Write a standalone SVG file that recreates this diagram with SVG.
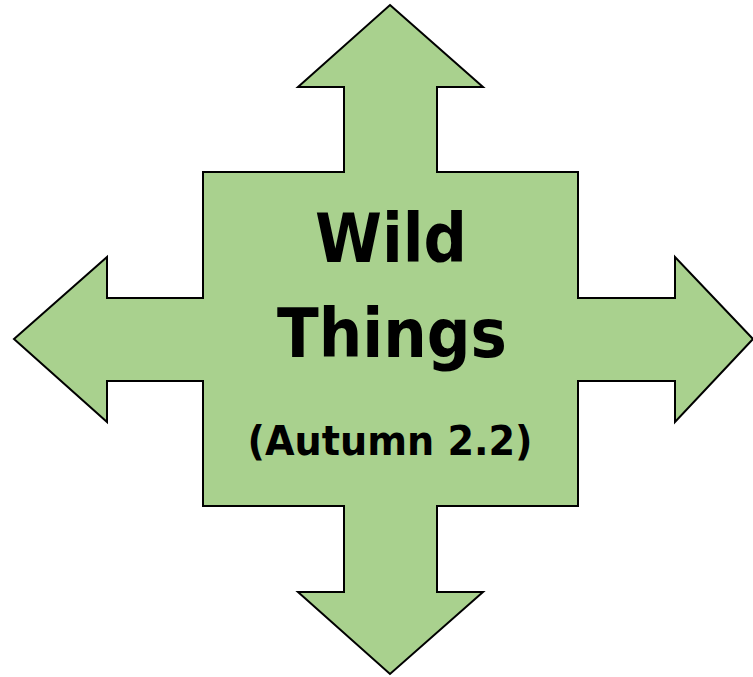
<svg xmlns="http://www.w3.org/2000/svg" width="753" height="677" viewBox="0 0 753 677">
<style>
.shape{fill:#A9D18E;stroke:#000;stroke-width:2;stroke-linejoin:miter}
.t{font-family:"DejaVu Sans",Verdana,sans-serif;font-weight:bold;fill:#000;text-anchor:middle}
</style>
<rect width="753" height="677" fill="#fff"/>
<g id="quad-arrow">
<path class="shape" d="M390,5 L483,87 L437,87 L437,172 L578,172 L578,298 L675,298 L675,257 L753,339 L675,422 L675,381 L578,381 L578,506 L437,506 L437,592 L483,592 L390,674 L298,592 L344,592 L344,506 L203,506 L203,381 L107,381 L107,422 L14,339 L107,257 L107,298 L203,298 L203,172 L344,172 L344,87 L298,87 Z"/>
</g>
<g id="label">
<text class="t" x="391" y="262" font-size="68" textLength="152" lengthAdjust="spacingAndGlyphs">Wild</text>
<text class="t" x="392" y="357" font-size="68" textLength="230" lengthAdjust="spacingAndGlyphs">Things</text>
<text class="t" x="390" y="455" font-size="41" textLength="285" lengthAdjust="spacingAndGlyphs">(Autumn 2.2)</text>
</g>
</svg>
